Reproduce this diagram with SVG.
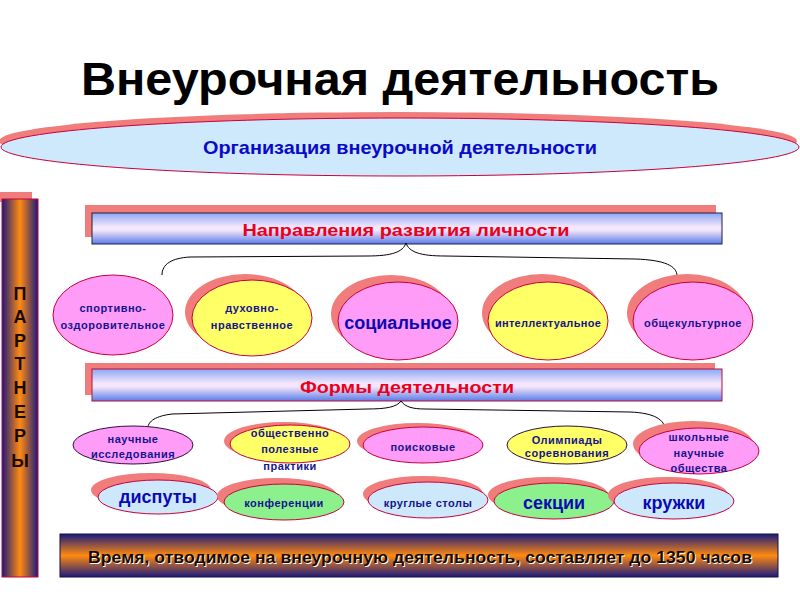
<svg xmlns="http://www.w3.org/2000/svg" width="800" height="600" viewBox="0 0 800 600">
<defs>
<linearGradient id="gH" x1="0" y1="0" x2="1" y2="0">
<stop offset="0" stop-color="#1c1a7c"/><stop offset="0.5" stop-color="#ff8a10"/><stop offset="1" stop-color="#1c1a7c"/>
</linearGradient>
<linearGradient id="gV" x1="0" y1="0" x2="0" y2="1">
<stop offset="0" stop-color="#1c1a7c"/><stop offset="0.5" stop-color="#ff8a10"/><stop offset="1" stop-color="#1c1a7c"/>
</linearGradient>
<linearGradient id="gB" x1="0" y1="0" x2="0" y2="1">
<stop offset="0" stop-color="#8aa8f4"/><stop offset="0.45" stop-color="#f6e6fa"/><stop offset="0.55" stop-color="#f6e6fa"/><stop offset="1" stop-color="#5a7ce8"/>
</linearGradient>
</defs>
<style>
text{font-family:"Liberation Sans",Arial,sans-serif;font-weight:bold;text-anchor:middle}
.sh{fill:#f07c7c}
.pk{fill:#ff9cf8;stroke:#c8003c;stroke-width:1}
.yl{fill:#ffff66;stroke:#c8003c;stroke-width:1}
.bl{fill:#cde8fb;stroke:#c8003c;stroke-width:1}
.gr{fill:#8cf08c;stroke:#c8003c;stroke-width:1}
.dk{stroke:#301040}
.s{font-size:11px;fill:#14148c;letter-spacing:0.5px}
.L{font-size:18px;fill:#0a0ab4}
.hd{font-size:17px;fill:#e8001c}
.con path{fill:none;stroke:#000;stroke-width:1}
</style>
<text x="400" y="95" style="font-size:47px;fill:#000" textLength="638" lengthAdjust="spacingAndGlyphs">Внеурочная деятельность</text>

<g id="org">
<ellipse class="sh" cx="398" cy="141" rx="399" ry="29"/>
<ellipse cx="400" cy="147" rx="399" ry="29" fill="#cde9fb" stroke="#c8003c" stroke-width="1"/>
<text x="400" y="154" style="font-size:18.5px;fill:#0a0ac8" textLength="394" lengthAdjust="spacingAndGlyphs">Организация внеурочной деятельности</text>
</g>

<g id="partners">
<rect x="0" y="192" width="32" height="10" fill="#f07c7c"/>
<rect x="2" y="199" width="36" height="378" fill="url(#gH)" stroke="#c8003c" stroke-width="1"/>
<g style="font-size:18px;fill:#1a0a00">
<text x="20" y="300">П</text><text x="20" y="323">А</text><text x="20" y="347">Р</text><text x="20" y="370">Т</text><text x="20" y="394">Н</text><text x="20" y="418">Е</text><text x="20" y="442">Р</text><text x="20" y="467">Ы</text>
</g>
</g>

<g id="directions">
<rect x="85" y="205" width="631" height="32" fill="#f07c7c"/>
<rect x="92" y="213" width="630" height="31" fill="url(#gB)" stroke="#202040" stroke-width="1"/>
<text x="406" y="236" class="hd" textLength="327" lengthAdjust="spacingAndGlyphs">Направления развития личности</text>
</g>

<g id="forms">
<rect x="85" y="363" width="630" height="32" fill="#f07c7c"/>
<rect x="92" y="369" width="630" height="32" fill="url(#gB)" stroke="#b01040" stroke-width="1"/>
<text x="407" y="393" class="hd" textLength="214" lengthAdjust="spacingAndGlyphs">Формы деятельности</text>
</g>

<g class="con" id="connectors">
<path d="M406,243 C403,252 392,256 367,256 L190,257 C172,258 162,264 162,275"/>
<path d="M406,243 C409,252 420,256 445,256 L635,259 C665,260 677,266 677,276"/>
<path d="M401,401 C397,407 386,409 367,409 L172,414 C156,416 148,421 148,428"/>
<path d="M401,401 C405,407 413,409 425,409 L630,412 C655,413 665,420 665,430"/>
</g>

<g id="n-sport">
<ellipse class="pk" cx="113" cy="315" rx="60" ry="40"/>
<text class="s" x="113" y="312">спортивно-</text><text class="s" x="113" y="329">оздоровительное</text>
</g>
<g id="n-duh">
<ellipse class="sh" cx="245" cy="312" rx="60" ry="38"/>
<ellipse class="yl" cx="252" cy="318" rx="60" ry="38"/>
<text class="s" x="252" y="312">духовно-</text><text class="s" x="252" y="329">нравственное</text>
</g>
<g id="n-soc">
<ellipse class="sh" cx="391" cy="314" rx="60" ry="39"/>
<ellipse class="pk" cx="398" cy="321" rx="60" ry="39"/>
<text class="L" x="398" y="329">социальное</text>
</g>
<g id="n-int">
<ellipse class="sh" cx="542" cy="313" rx="60" ry="39"/>
<ellipse class="yl" cx="548" cy="321" rx="60" ry="39"/>
<text class="s" x="548" y="327" style="letter-spacing:0.3px">интеллектуальное</text>
</g>
<g id="n-obsh">
<ellipse class="sh" cx="687" cy="313" rx="60" ry="39"/>
<ellipse class="pk" cx="693" cy="321" rx="60" ry="39"/>
<text class="s" x="693" y="327">общекультурное</text>
</g>

<g id="f-nauch">
<ellipse class="pk dk" cx="133" cy="445" rx="60" ry="19"/>
<text class="s" x="133" y="443">научные</text><text class="s" x="133" y="458">исследования</text>
</g>
<g id="f-obsh">
<ellipse class="sh" cx="284" cy="441" rx="60" ry="19"/>
<ellipse class="yl" cx="290" cy="444" rx="60" ry="19"/>
<text class="s" x="290" y="437">общественно</text><text class="s" x="290" y="453">полезные</text><text class="s" x="290" y="470">практики</text>
</g>
<g id="f-poisk">
<ellipse class="sh" cx="417" cy="441" rx="60" ry="18"/>
<ellipse class="pk" cx="423" cy="445" rx="60" ry="18"/>
<text class="s" x="423" y="451">поисковые</text>
</g>
<g id="f-olimp">
<ellipse class="yl dk" cx="567" cy="445" rx="60" ry="19"/>
<text class="s" x="567" y="444">Олимпиады</text><text class="s" x="567" y="457">соревнования</text>
</g>
<g id="f-shk">
<ellipse class="sh" cx="693" cy="444" rx="60" ry="23"/>
<ellipse class="pk" cx="699" cy="451" rx="60" ry="23"/>
<text class="s" x="699" y="441">школьные</text><text class="s" x="699" y="457">научные</text><text class="s" x="699" y="472">общества</text>
</g>

<g id="f-disp">
<ellipse class="sh" cx="151" cy="490" rx="60" ry="17"/>
<ellipse class="bl" cx="158" cy="497" rx="60" ry="17"/>
<text class="L" x="158" y="503">диспуты</text>
</g>
<g id="f-konf">
<ellipse class="sh" cx="277" cy="496" rx="60" ry="18"/>
<ellipse class="gr" cx="284" cy="502" rx="60" ry="18"/>
<text class="s" x="284" y="507">конференции</text>
</g>
<g id="f-krug">
<ellipse class="sh" cx="423" cy="494" rx="60" ry="18"/>
<ellipse class="bl" cx="428" cy="500" rx="60" ry="18"/>
<text class="s" x="428" y="507">круглые столы</text>
</g>
<g id="f-sek">
<ellipse class="sh" cx="548" cy="495" rx="60" ry="18"/>
<ellipse class="gr" cx="554" cy="501" rx="60" ry="18"/>
<text class="L" x="554" y="509">секции</text>
</g>
<g id="f-kruzh">
<ellipse class="sh" cx="668" cy="495" rx="60" ry="18"/>
<ellipse class="bl" cx="674" cy="501" rx="60" ry="18"/>
<text class="L" x="674" y="509">кружки</text>
</g>

<g id="time">
<rect x="60" y="534" width="718" height="43" fill="url(#gV)" stroke="#10104a" stroke-width="1"/>
<text x="421" y="564" style="font-size:16.5px;fill:#fff" textLength="664" lengthAdjust="spacingAndGlyphs">Время, отводимое на внеурочную деятельность, составляет до 1350 часов</text>
<text x="420" y="563" style="font-size:16.5px;fill:#1a0a00" textLength="664" lengthAdjust="spacingAndGlyphs">Время, отводимое на внеурочную деятельность, составляет до 1350 часов</text>
</g>
</svg>
